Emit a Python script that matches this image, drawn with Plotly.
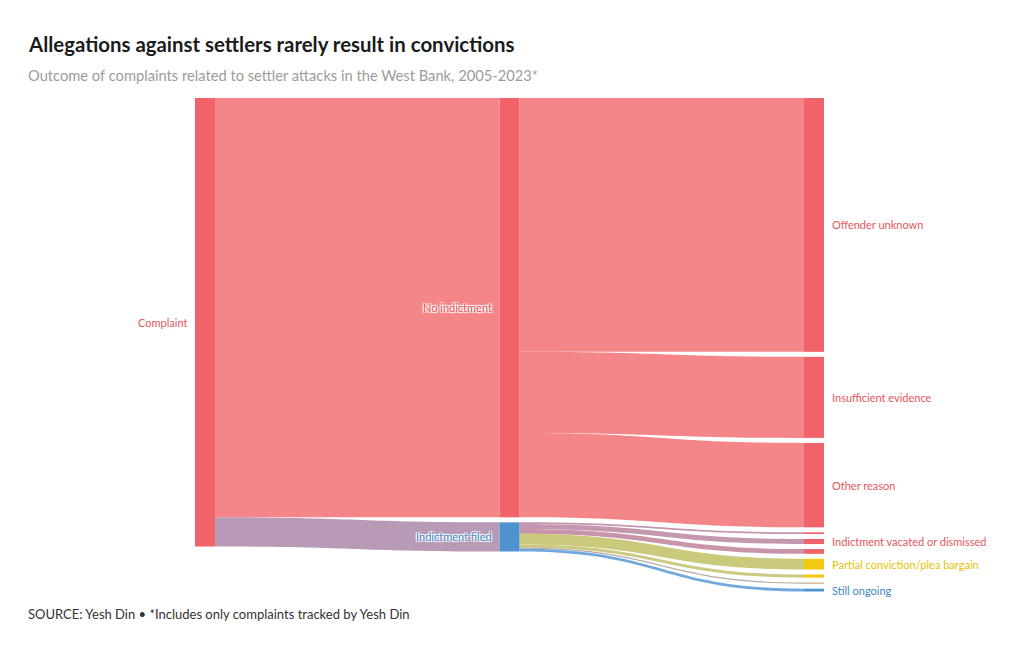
import plotly.graph_objects as go

# ---------------- data ----------------
node_names = ["Complaint", "No indictment", "Indictment filed",
              "Offender unknown", "Insufficient evidence", "Other reason",
              "", "Indictment vacated or dismissed", "",
              "Partial conviction/plea bargain", "", "", "Still ongoing"]
node_columns = [0, 1, 1, 2, 2, 2, 2, 2, 2, 2, 2, 2, 2]
link_source = [0, 0, 1, 1, 1, 2, 2, 2, 2, 2, 2, 2]
link_target = [1, 2, 3, 4, 5, 6, 7, 8, 9, 10, 11, 12]
link_value = [1495, 104, 905, 289, 301, 6, 18, 17, 38, 11, 4, 10]

RED, RED_L = "#EF6369", "#F4868A"
BLUE, BLUE_L = "#4E93CF", "#6FA8DC"
YEL, YEL_L = "#F2C811", "#F4D54A"
BROWN = "#C9A27A"
node_colors = [RED, RED, BLUE, RED, RED, RED, RED, RED, RED, YEL, YEL, BROWN, BLUE]
link_colors = [RED_L, "#B89AB6", RED_L, RED_L, RED_L,
               "#C397AF", "#C397AF", "#C894AA", "#CACA7C", "#CBCA80",
               "#B3A9A2", BLUE_L]
label_colors = {0: "#E8555B", 1: "#E8555B", 2: "#4A8CC9", 3: "#E8555B",
                4: "#E8555B", 5: "#E8555B", 7: "#E8555B", 9: "#E6BF00",
                12: "#3F86C6"}

# ---------------- layout geometry ----------------
FW, FH = 1020, 650
OFF = 8                    # page margin around the figure in the browser
X0, X1 = 195 - OFF, 824 - OFF          # px, sankey domain
Y0, Y1 = 98 - OFF, 591.5 - OFF
W, H = X1 - X0, Y1 - Y0
PAD, THICK = 5, 20
TX = 28 - OFF - 2          # left edge of headline texts

n = len(node_names)
inflow = [0] * n
outflow = [0] * n
for s, t, v in zip(link_source, link_target, link_value):
    outflow[s] += v
    inflow[t] += v
node_val = [max(a, b) for a, b in zip(inflow, outflow)]

cols = {}
for i, c in enumerate(node_columns):
    cols.setdefault(c, []).append(i)
ky = min((H - (len(m) - 1) * PAD) / sum(node_val[i] for i in m) for m in cols.values())

node_y_center_px = [0] * n
for c, members in cols.items():
    y = 0
    for i in members:
        h = node_val[i] * ky
        node_y_center_px[i] = y + h / 2
        y += h + PAD
ncols = max(node_columns)
node_x_center_px = [THICK / 2 + c * (W - THICK) / ncols for c in node_columns]

node_x = [x / W for x in node_x_center_px]
node_y = [y / H for y in node_y_center_px]

fig = go.Figure(go.Sankey(
    arrangement="fixed",
    domain=dict(x=[X0 / FW, X1 / FW], y=[1 - Y1 / FH, 1 - Y0 / FH]),
    node=dict(label=[""] * n, color=node_colors, pad=PAD, thickness=THICK,
              line=dict(width=0), x=node_x, y=node_y),
    link=dict(source=link_source, target=link_target, value=link_value,
              color=link_colors),
))

FONT = "Lato"
ann = []
for i, name in enumerate(node_names):
    if not name:
        continue
    ypx = Y0 + node_y_center_px[i]
    col = node_columns[i]
    left_px = X0 + node_x_center_px[i] - THICK / 2
    right_px = X0 + node_x_center_px[i] + THICK / 2
    if col == ncols:
        x, anchor = (right_px + 6) / FW, "left"
    else:
        x, anchor = (left_px - 6) / FW, "right"
    f = dict(family=FONT, size=11, color=label_colors[i])
    if col == 1:
        f["shadow"] = "1px 1px 1px #fff, -1px -1px 1px #fff, 1px -1px 1px #fff, -1px 1px 1px #fff"
    ann.append(dict(text=name, x=x, y=1 - ypx / FH, xref="paper", yref="paper",
                    xanchor=anchor, yanchor="middle", showarrow=False, font=f))

ann += [
    dict(text="<b>Allegations against settlers rarely result in convictions</b>",
         x=TX / FW, y=1 - (44 - OFF) / FH, xref="paper", yref="paper", xanchor="left",
         yanchor="middle", showarrow=False,
         font=dict(family=FONT, size=20.4, color="#1b1b1b")),
    dict(text="Outcome of complaints related to settler attacks in the West Bank, 2005-2023*",
         x=TX / FW, y=1 - (75 - OFF) / FH, xref="paper", yref="paper", xanchor="left",
         yanchor="middle", showarrow=False,
         font=dict(family=FONT, size=14.7, color="#9c9c9c")),
    dict(text="SOURCE: Yesh Din • *Includes only complaints tracked by Yesh Din",
         x=TX / FW, y=1 - (614 - OFF) / FH, xref="paper", yref="paper", xanchor="left",
         yanchor="middle", showarrow=False,
         font=dict(family=FONT, size=13, color="#333333")),
]

fig.update_layout(width=FW, height=FH, margin=dict(l=0, r=0, t=0, b=0),
                  paper_bgcolor="white", plot_bgcolor="white",
                  annotations=ann, font=dict(family=FONT))
fig.write_html("out.html")
